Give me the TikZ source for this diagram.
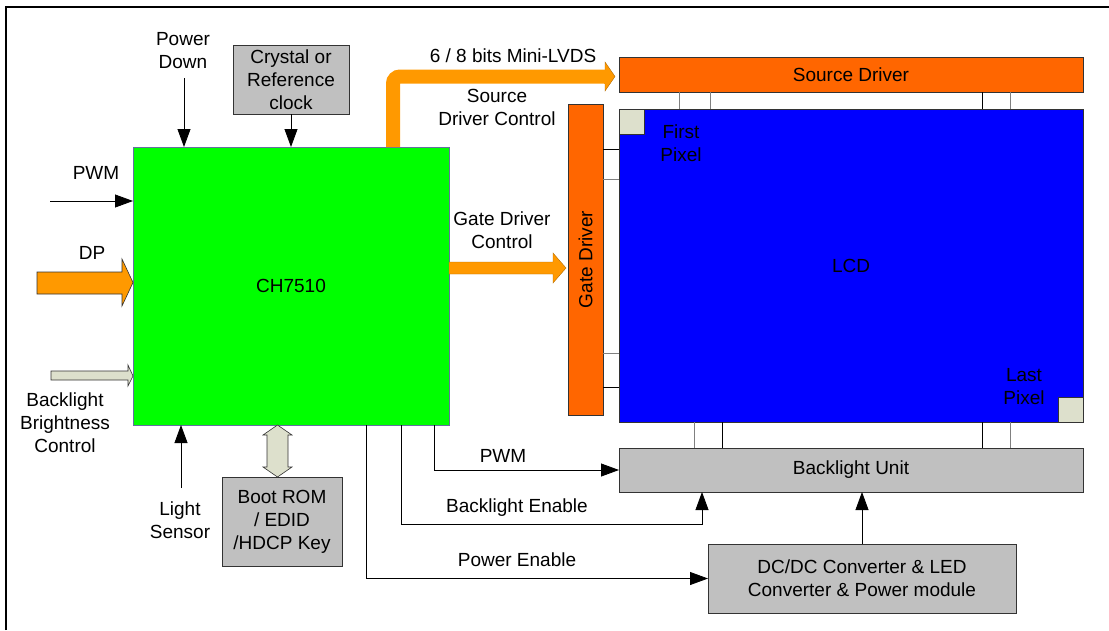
\documentclass[tikz,border=0pt]{standalone}
\usepackage{fontspec}
\setmainfont{Liberation Sans}
\usetikzlibrary{arrows.meta}
\definecolor{chgreen}{HTML}{00FF00}
\definecolor{lcdblue}{HTML}{0000FF}
\definecolor{drvorange}{HTML}{FF6600}
\definecolor{arrorange}{HTML}{FF9900}
\definecolor{boxgray}{HTML}{C0C0C0}
\definecolor{pixgray}{HTML}{DDE0CC}
\definecolor{chborder}{HTML}{6470A0}
\definecolor{wiregray}{HTML}{808080}
\begin{document}
\begin{tikzpicture}[x=1pt,y=-1pt,font=\fontsize{19}{23}\selectfont,
  blk/.style={draw=black!80, line width=0.8pt, inner sep=0pt, outer sep=0pt, align=center},
  lbl/.style={align=center, inner sep=1pt},
  arr/.style={-{Triangle[length=18pt,width=13pt]}, line width=0.8pt},
  wire/.style={line width=0.8pt},
  fat/.style={draw=black!80, line width=0.6pt}]
\useasboundingbox (0,0) rectangle (1109,630);
\draw[line width=1.2pt] (6,630) -- (6,7) -- (1109,7);

% boxes
\node[blk, fill=chgreen, draw=chborder, minimum width=316pt, minimum height=278pt] (ch) at (291,286) {CH7510};
\node[blk, fill=boxgray, minimum width=116pt, minimum height=69pt] (crystal) at (291,79.5) {Crystal or\\Reference\\clock};
\node[blk, fill=boxgray, minimum width=120pt, minimum height=89pt] (boot) at (282,521.5) {Boot ROM\\/ EDID\\/HDCP Key};
\node[blk, fill=drvorange, minimum width=464pt, minimum height=35pt] (src) at (851,74.5) {Source Driver};
\node[blk, fill=lcdblue, minimum width=464pt, minimum height=313pt] (lcd) at (851,265.5) {LCD};
\node[blk, fill=drvorange, rotate=90, minimum width=311pt, minimum height=35pt] (gate) at (585.5,259.5) {Gate Driver};
\node[blk, fill=pixgray, minimum size=25pt, anchor=north west] (fp) at (lcd.north west) {};
\node[blk, fill=pixgray, minimum size=25pt, anchor=south east] (lp) at (lcd.south east) {};
\node[blk, fill=boxgray, minimum width=464pt, minimum height=44pt] (blu) at (851,470) {Backlight Unit};
\node[blk, fill=boxgray, minimum width=308pt, minimum height=69pt] (dcdc) at (862,578.5) {DC/DC Converter \& LED\\Converter \& Power module};

% labels
\node[lbl] (pd) at (183,51) {Power\\Down};
\node[lbl] (pwml) at (96,173) {PWM};
\node[lbl] (dpl) at (92,253) {DP};
\node[lbl] (bbc) at (65,423) {Backlight\\Brightness\\Control};
\node[lbl] (ls) at (180,520) {Light\\Sensor};
\node[lbl] (lvds) at (513,56) {6 / 8 bits Mini-LVDS};
\node[lbl] (sdc) at (497,107) {Source\\Driver Control};
\node[lbl] (gdc) at (502,230) {Gate Driver\\Control};
\node[lbl] (fpl) at (681,143) {First\\Pixel};
\node[lbl] (lpl) at (1024,387) {Last\\Pixel};
\node[lbl] (pwm2) at (503,456) {PWM};
\node[lbl] (ble) at (517,508) {Backlight Enable};
\node[lbl] (pe) at (517,560) {Power Enable};

% thin arrows into CH7510
\coordinate (pdstart) at (184,78);
\draw[arr] (pdstart) -- (pdstart |- ch.north);
\draw[arr] (crystal.south) -- (crystal.south |- ch.north);
\coordinate (pwmstart) at (50,201);
\draw[arr] (pwmstart) -- (pwmstart -| ch.west);
\coordinate (lsstart) at (181,488);
\draw[arr] (lsstart) -- (lsstart |- ch.south);

% fat arrows
\filldraw[fill=arrorange, fat] (37,272) -- (122,272) -- (122,259) -- (133,282.5) -- (122,306) -- (122,294) -- (37,294) -- cycle;
\filldraw[fill=pixgray, fat] (51,371) -- (128,371) -- (128,365) -- (133,376) -- (128,386) -- (128,380) -- (51,380) -- cycle;
\filldraw[fill=pixgray, fat] (277.5,425) -- (292,435) -- (288,435) -- (288,467) -- (292,467) -- (277.5,477) -- (263,467) -- (267,467) -- (267,435) -- (263,435) -- cycle;
\filldraw[fill=arrorange, draw=arrorange!70!black, line width=0.4pt] (449,262) -- (553,262) -- (553,253) -- (566,268) -- (553,283) -- (553,274) -- (449,274) -- cycle;
\draw[line width=14pt, arrorange, rounded corners=7pt] (393,147) -- (393,76.5) -- (606,76.5);
\filldraw[fill=arrorange, draw=arrorange!70!black, line width=0.4pt] (605,62) -- (615,76.5) -- (605,91) -- (605,83.5) -- cycle;
\fill[arrorange] (604,69.5) rectangle (606,83.5);

% panel wiring
\foreach \yy/\cc in {149/black,179/wiregray,353/wiregray,387/black}
  \draw[wire,\cc] (gate.south |- 0,\yy) -- (lcd.west |- 0,\yy);
\foreach \xx/\cc in {679/wiregray,710/wiregray,982/black,1010/wiregray}
  \draw[wire,\cc] (src.south -| \xx,0) -- (lcd.north -| \xx,0);
\foreach \xx/\cc in {694/wiregray,722/black,982/black,1010/wiregray}
  \draw[wire,\cc] (lcd.south -| \xx,0) -- (blu.north -| \xx,0);

% control lines
\draw[arr] (ch.south -| 434,0) |- (blu.west);
\draw[arr] (ch.south -| 401,0) |- (702,524) -- (blu.south -| 702,0);
\draw[arr] (ch.south -| 366,0) |- (dcdc.west);
\draw[arr] (dcdc.north) -- (dcdc.north |- blu.south);
\end{tikzpicture}
\end{document}
